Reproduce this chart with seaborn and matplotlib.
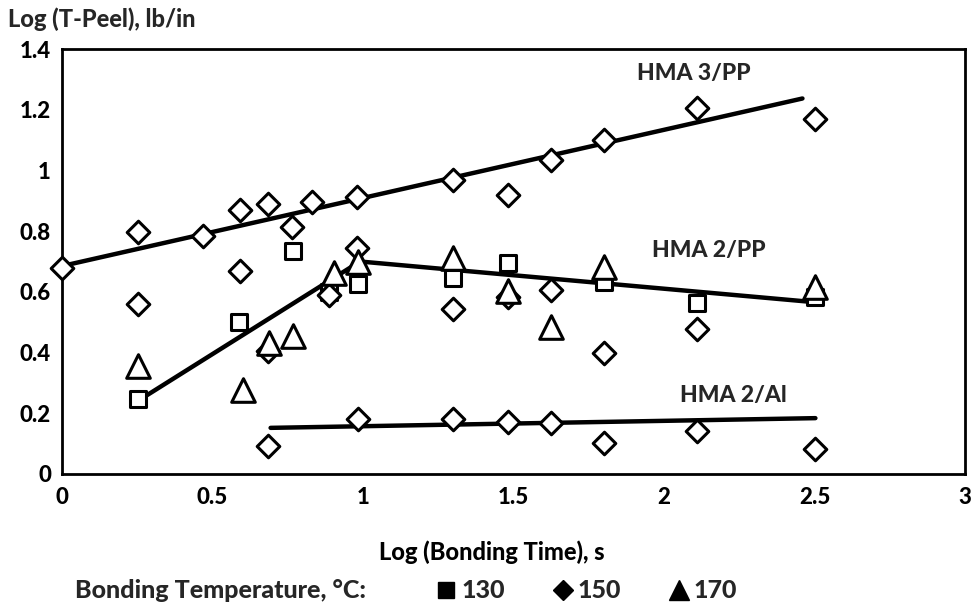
import numpy as np
import pandas as pd
import matplotlib
matplotlib.use("Agg")
import matplotlib.pyplot as plt
from matplotlib.lines import Line2D
import seaborn as sns

# ---- data -------------------------------------------------------------
sq_x = [0.253, 0.587, 0.767, 0.887, 0.983, 1.30, 1.483, 1.80, 2.11, 2.503]
sq_y = [0.247, 0.50, 0.734, 0.60, 0.625, 0.645, 0.694, 0.632, 0.563, 0.582]

di_x = [0.0, 0.253, 0.253, 0.467, 0.59, 0.59, 0.683, 0.683, 0.683, 0.763,
        0.83, 0.887, 0.98, 0.98, 0.983, 1.30, 1.30, 1.30, 1.483, 1.483,
        1.483, 1.623, 1.623, 1.623, 1.80, 1.80, 1.80, 2.11, 2.11, 2.11,
        2.503, 2.503]
di_y = [0.678, 0.796, 0.559, 0.783, 0.87, 0.668, 0.888, 0.405, 0.092, 0.813,
        0.895, 0.589, 0.911, 0.743, 0.181, 0.967, 0.542, 0.181, 0.918, 0.582,
        0.171, 1.033, 0.605, 0.168, 1.099, 0.398, 0.102, 1.207, 0.477, 0.141,
        1.168, 0.082]

tr_x = [0.253, 0.60, 0.687, 0.767, 0.903, 0.983, 1.30, 1.483, 1.623, 1.80, 2.503]
tr_y = [0.355, 0.276, 0.43, 0.454, 0.661, 0.697, 0.71, 0.602, 0.484, 0.681, 0.616]

# fitted trend lines (vertices)
hma3pp_x = [0.0, 2.46]
hma3pp_y = [0.685, 1.237]
hma2pp_x = [0.283, 0.99, 2.50]
hma2pp_y = [0.26, 0.70, 0.566]
hma2al_x = [0.693, 2.503]
hma2al_y = [0.152, 0.184]

temps = ["130", "150", "170"]
x_ticks = [0, 0.5, 1, 1.5, 2, 2.5, 3]
y_ticks = [0, 0.2, 0.4, 0.6, 0.8, 1.0, 1.2, 1.4]

# ---- style ------------------------------------------------------------
sns.set_theme(style="white")
plt.rcParams["font.family"] = ["Lato", "DejaVu Sans"]
W = 900

fig = plt.figure(figsize=(9.78, 6.16), dpi=100)
ax = fig.add_axes([62 / 978, 1 - 474 / 616, (965 - 62) / 978, (474 - 49) / 616])

pts = pd.concat([
    pd.DataFrame({"x": sq_x, "y": sq_y, "T": "130"}),
    pd.DataFrame({"x": di_x, "y": di_y, "T": "150"}),
    pd.DataFrame({"x": tr_x, "y": tr_y, "T": "170"}),
])

# lines
for lx, ly in [(hma3pp_x, hma3pp_y), (hma2pp_x, hma2pp_y), (hma2al_x, hma2al_y)]:
    sns.lineplot(x=lx, y=ly, ax=ax, color="black", linewidth=3.2,
                 sort=False, estimator=None, legend=False, zorder=2)

marker_of = {"130": "s", "150": "D", "170": "^"}
size_of = {"130": 11.5, "150": 11.5, "170": 17}
for t in temps:
    sub = pts[pts["T"] == t]
    sns.scatterplot(data=sub, x="x", y="y", ax=ax, marker=marker_of[t],
                    s=size_of[t] ** 2, facecolor="white", edgecolor="black",
                    linewidth=2.2, legend=False, zorder=3, clip_on=False)

ax.set_xlim(0, 3)
ax.set_ylim(0, 1.4)
ax.set_xticks(x_ticks)
ax.set_yticks(y_ticks)
ax.set_xticklabels(["%g" % v for v in x_ticks])
ax.set_yticklabels(["%g" % v for v in y_ticks])
ax.tick_params(direction="in", length=15, width=2.2, labelsize=16,
               colors="black")
ax.tick_params(axis="x", pad=9)
ax.tick_params(axis="y", pad=8)
for lab in ax.get_xticklabels() + ax.get_yticklabels():
    lab.set_fontweight(W)
for sp in ax.spines.values():
    sp.set_visible(True)
    sp.set_color("black")
    sp.set_linewidth(2)

ax.set_xlabel("Log (Bonding Time), s", fontsize=17, fontweight=W,
              color="black")
ax.xaxis.label.set_va("center")
ax.xaxis.set_label_coords((492 - 62) / 903, -(552 - 474) / 425)
ax.set_ylabel("")

fig.text(8 / 978, 1 - 19 / 616, "Log (T-Peel), lb/in", fontsize=17,
         fontweight=W, ha="left", va="center")

ax.text(2.10, 1.32, "HMA 3/PP", fontsize=16.5, fontweight=W, ha="center", va="center")
ax.text(2.15, 0.737, "HMA 2/PP", fontsize=16.5, fontweight=W, ha="center", va="center")
ax.text(2.23, 0.26, "HMA 2/Al", fontsize=16.5, fontweight=W, ha="center", va="center")

# legend
fig.text(75 / 978, 1 - 591 / 616, "Bonding Temperature, °C:", fontsize=18,
         fontweight=W, ha="left", va="center")
handles = [Line2D([], [], linestyle="none", marker=marker_of[t], color="black",
                  markersize={"130": 11, "150": 10, "170": 14}[t]) for t in temps]
leg = fig.legend(handles, temps, loc="center left",
                 bbox_to_anchor=(434 / 978, 1 - 591 / 616), ncol=3,
                 frameon=False, handletextpad=0.1, columnspacing=1.8,
                 handlelength=1.0, borderpad=0, borderaxespad=0,
                 prop={"size": 18, "weight": W})

fig.savefig("out.png", dpi=100)
